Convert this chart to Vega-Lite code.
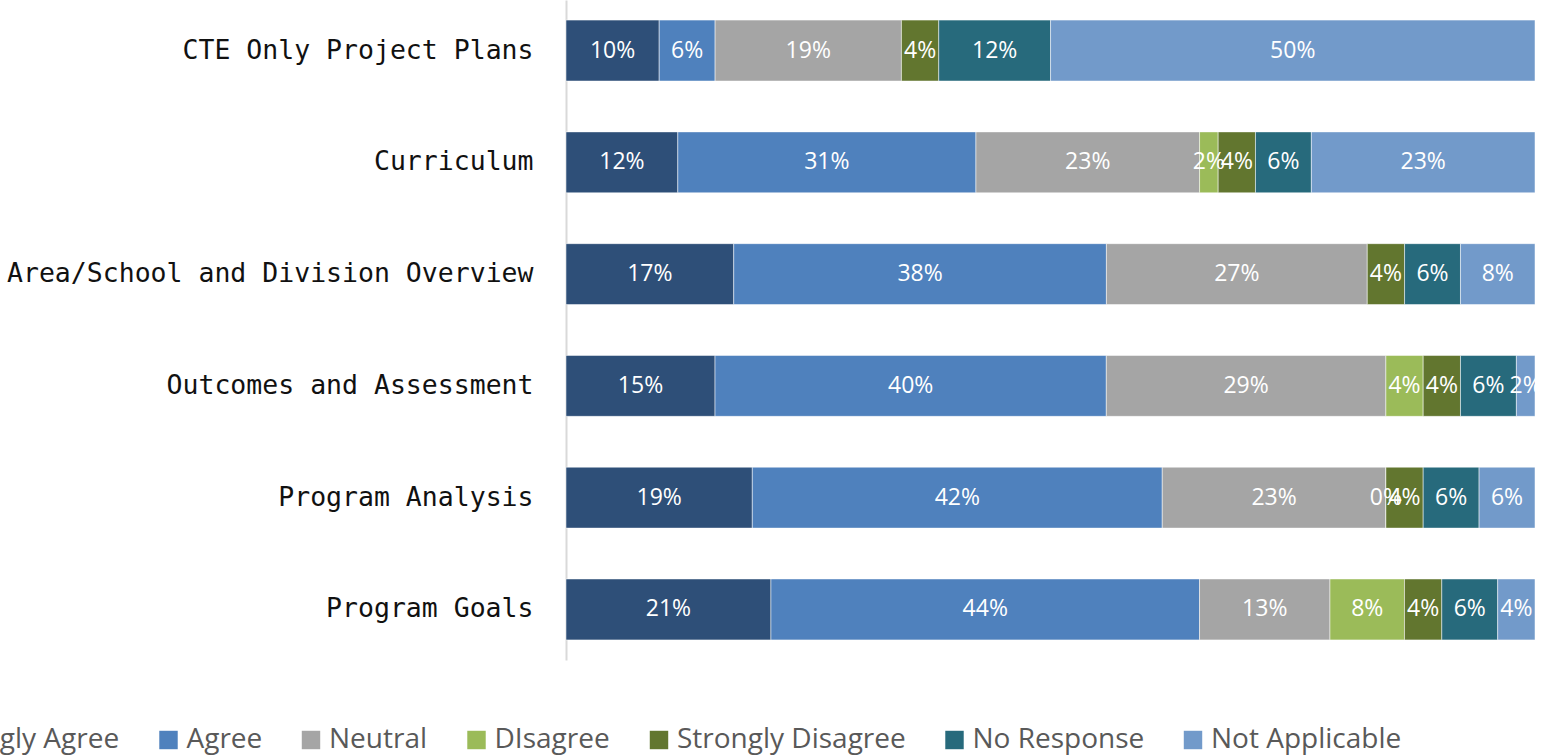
{
  "$schema": "https://vega.github.io/schema/vega-lite/v6.json",
  "width": 969,
  "height": 660,
  "autosize": {"type": "none"},
  "padding": {"left": 566, "top": 0, "right": 11, "bottom": 96},
  "background": "white",
  "config": {"view": {"stroke": null}},
  "data": {"values": [
    {"item": "CTE Only Project Plans", "resp": "Strongly Agree", "rank": 1, "pct": 0.0962},
    {"item": "CTE Only Project Plans", "resp": "Agree", "rank": 2, "pct": 0.0577},
    {"item": "CTE Only Project Plans", "resp": "Neutral", "rank": 3, "pct": 0.1923},
    {"item": "CTE Only Project Plans", "resp": "Strongly Disagree", "rank": 5, "pct": 0.0385},
    {"item": "CTE Only Project Plans", "resp": "No Response", "rank": 6, "pct": 0.1154},
    {"item": "CTE Only Project Plans", "resp": "Not Applicable", "rank": 7, "pct": 0.5},
    {"item": "Curriculum", "resp": "Strongly Agree", "rank": 1, "pct": 0.1154},
    {"item": "Curriculum", "resp": "Agree", "rank": 2, "pct": 0.3077},
    {"item": "Curriculum", "resp": "Neutral", "rank": 3, "pct": 0.2308},
    {"item": "Curriculum", "resp": "DIsagree", "rank": 4, "pct": 0.0192},
    {"item": "Curriculum", "resp": "Strongly Disagree", "rank": 5, "pct": 0.0385},
    {"item": "Curriculum", "resp": "No Response", "rank": 6, "pct": 0.0577},
    {"item": "Curriculum", "resp": "Not Applicable", "rank": 7, "pct": 0.2308},
    {"item": "Area/School and Division Overview", "resp": "Strongly Agree", "rank": 1, "pct": 0.1731},
    {"item": "Area/School and Division Overview", "resp": "Agree", "rank": 2, "pct": 0.3846},
    {"item": "Area/School and Division Overview", "resp": "Neutral", "rank": 3, "pct": 0.2692},
    {"item": "Area/School and Division Overview", "resp": "Strongly Disagree", "rank": 5, "pct": 0.0385},
    {"item": "Area/School and Division Overview", "resp": "No Response", "rank": 6, "pct": 0.0577},
    {"item": "Area/School and Division Overview", "resp": "Not Applicable", "rank": 7, "pct": 0.0769},
    {"item": "Outcomes and Assessment", "resp": "Strongly Agree", "rank": 1, "pct": 0.1538},
    {"item": "Outcomes and Assessment", "resp": "Agree", "rank": 2, "pct": 0.4038},
    {"item": "Outcomes and Assessment", "resp": "Neutral", "rank": 3, "pct": 0.2885},
    {"item": "Outcomes and Assessment", "resp": "DIsagree", "rank": 4, "pct": 0.0385},
    {"item": "Outcomes and Assessment", "resp": "Strongly Disagree", "rank": 5, "pct": 0.0385},
    {"item": "Outcomes and Assessment", "resp": "No Response", "rank": 6, "pct": 0.0577},
    {"item": "Outcomes and Assessment", "resp": "Not Applicable", "rank": 7, "pct": 0.0192},
    {"item": "Program Analysis", "resp": "Strongly Agree", "rank": 1, "pct": 0.1923},
    {"item": "Program Analysis", "resp": "Agree", "rank": 2, "pct": 0.4231},
    {"item": "Program Analysis", "resp": "Neutral", "rank": 3, "pct": 0.2308},
    {"item": "Program Analysis", "resp": "DIsagree", "rank": 4, "pct": 0},
    {"item": "Program Analysis", "resp": "Strongly Disagree", "rank": 5, "pct": 0.0385},
    {"item": "Program Analysis", "resp": "No Response", "rank": 6, "pct": 0.0577},
    {"item": "Program Analysis", "resp": "Not Applicable", "rank": 7, "pct": 0.0577},
    {"item": "Program Goals", "resp": "Strongly Agree", "rank": 1, "pct": 0.2115},
    {"item": "Program Goals", "resp": "Agree", "rank": 2, "pct": 0.4423},
    {"item": "Program Goals", "resp": "Neutral", "rank": 3, "pct": 0.1346},
    {"item": "Program Goals", "resp": "DIsagree", "rank": 4, "pct": 0.0769},
    {"item": "Program Goals", "resp": "Strongly Disagree", "rank": 5, "pct": 0.0385},
    {"item": "Program Goals", "resp": "No Response", "rank": 6, "pct": 0.0577},
    {"item": "Program Goals", "resp": "Not Applicable", "rank": 7, "pct": 0.0385}
  ]},
  "encoding": {
    "y": {
      "field": "item", "type": "nominal",
      "sort": ["CTE Only Project Plans", "Curriculum", "Area/School and Division Overview", "Outcomes and Assessment", "Program Analysis", "Program Goals"],
      "scale": {"paddingInner": 0.455, "paddingOuter": 0.18},
      "axis": {"title": null, "ticks": false, "grid": false, "labelLimit": 600, "labelPadding": 33, "labelFont": "DejaVu Sans Mono", "labelFontSize": 26.5, "labelColor": "#111111", "domainColor": "#d9d9d9", "domainWidth": 2}
    },
    "x": {"field": "pct", "type": "quantitative", "stack": "normalize", "axis": null},
    "order": {"field": "rank", "type": "quantitative"}
  },
  "layer": [
    {
      "mark": {"type": "bar", "stroke": "#ffffff", "strokeWidth": 0.5},
      "encoding": {
        "color": {
          "field": "resp", "type": "nominal",
          "scale": {
            "domain": ["Strongly Agree", "Agree", "Neutral", "DIsagree", "Strongly Disagree", "No Response", "Not Applicable"],
            "range": ["#2E4F78", "#4F81BD", "#A5A5A5", "#9BBB59", "#62762F", "#276A7C", "#729ACA"]
          },
          "legend": {
            "orient": "none", "legendX": -669, "legendY": 726, "direction": "horizontal", "columns": 7,
            "title": null, "symbolType": "square", "symbolSize": 340, "symbolStrokeWidth": 0,
            "labelFont": "Open Sans", "labelFontSize": 28, "labelColor": "#595959", "labelLimit": 400,
            "columnPadding": 34.5, "labelOffset": 4, "padding": 0
          }
        }
      }
    },
    {
      "mark": {"type": "text", "color": "#ffffff", "font": "Open Sans", "fontSize": 23, "baseline": "middle"},
      "encoding": {
        "x": {"field": "pct", "type": "quantitative", "stack": "normalize", "bandPosition": 0.5},
        "detail": {"field": "resp"},
        "text": {"field": "pct", "type": "quantitative", "format": ".0%"}
      }
    }
  ]
}
